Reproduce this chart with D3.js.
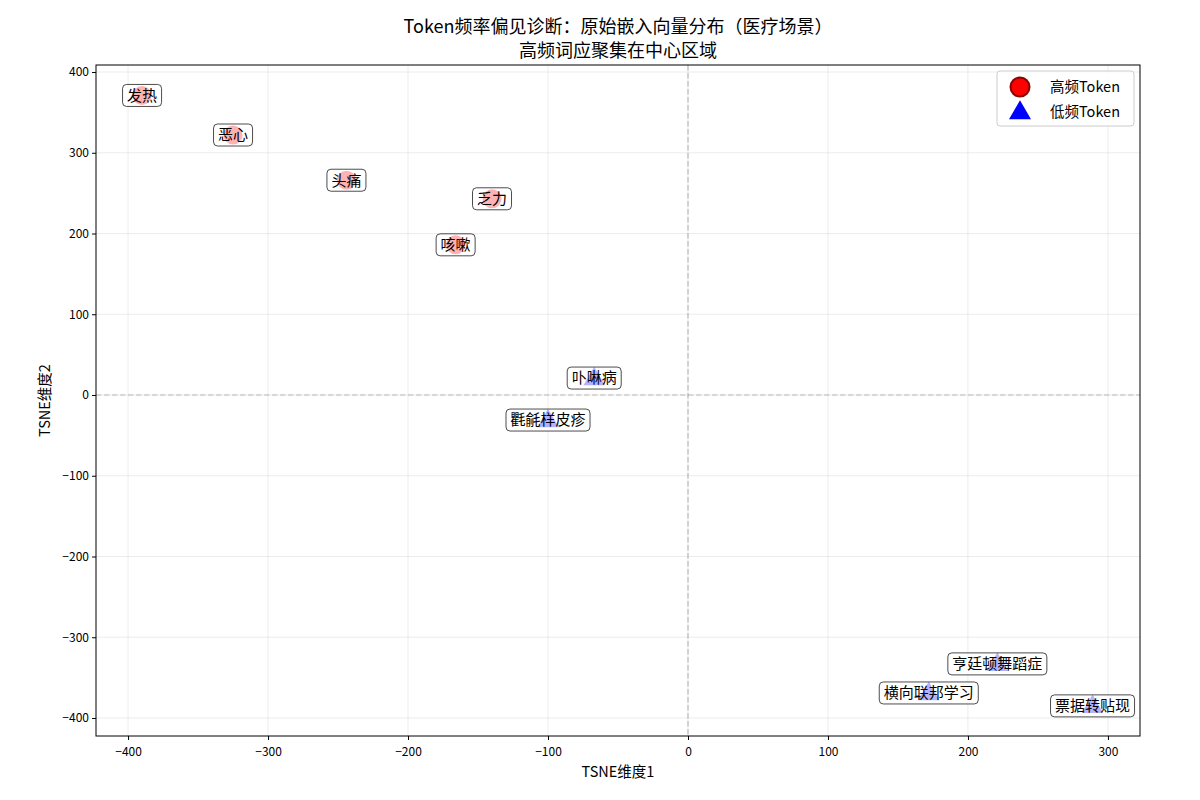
<!DOCTYPE html>
<html><head><meta charset="utf-8">
<script src="https://cdn.jsdelivr.net/npm/d3@7"></script>
<style>body{margin:0;background:#fff}svg{display:block}text{font-family:"Noto Sans CJK SC","DejaVu Sans",sans-serif}</style>
</head><body><svg id="c" width="1200" height="800"></svg>
<script>
const highTokens = ["发热","恶心","头痛","乏力","咳嗽"];
const highX = [-390,-325,-244,-140,-166];
const highY = [371,322,266,243,186];
const lowTokens = ["卟啉病","氍毹样皮疹","亨廷顿舞蹈症","横向联邦学习","票据转贴现"];
const lowX = [-67,-100,221,172,289];
const lowY = [21,-31,-333,-369,-385];
const xTicks = [-400,-300,-200,-100,0,100,200,300];
const yTicks = [-400,-300,-200,-100,0,100,200,300,400];
const titleLines = ["Token频率偏见诊断：原始嵌入向量分布（医疗场景）","高频词应聚集在中心区域"];
const legendLabels = ["高频Token","低频Token"];

const svg = d3.select("#c");
const L=96,R=1140,T=65,B=736;
const x = d3.scaleLinear().domain([-422.9,322.9]).range([L,R]);
const y = d3.scaleLinear().domain([-422.3,408.7]).range([B,T]);

// grid
svg.append("g").selectAll("line").data(xTicks).join("line")
 .attr("x1",d=>x(d)).attr("x2",d=>x(d)).attr("y1",T).attr("y2",B)
 .attr("stroke","#b0b0b0").attr("stroke-opacity",0.3).attr("stroke-width",0.8);
svg.append("g").selectAll("line").data(yTicks).join("line")
 .attr("y1",d=>y(d)).attr("y2",d=>y(d)).attr("x1",L).attr("x2",R)
 .attr("stroke","#b0b0b0").attr("stroke-opacity",0.3).attr("stroke-width",0.8);
// zero lines
svg.append("line").attr("x1",x(0)).attr("x2",x(0)).attr("y1",T).attr("y2",B)
 .attr("stroke","#808080").attr("stroke-opacity",0.5).attr("stroke-dasharray","5.5,2.5").attr("stroke-width",1.2);
svg.append("line").attr("y1",y(0)).attr("y2",y(0)).attr("x1",L).attr("x2",R)
 .attr("stroke","#808080").attr("stroke-opacity",0.5).attr("stroke-dasharray","5.5,2.5").attr("stroke-width",1.2);

// axes
const fmt = d => d3.format("d")(d).replace("-","−");
const xa = svg.append("g").attr("transform",`translate(0,${B})`).call(d3.axisBottom(x).tickValues(xTicks).tickFormat(fmt).tickSizeOuter(0).tickSize(4));
const ya = svg.append("g").attr("transform",`translate(${L},0)`).call(d3.axisLeft(y).tickValues(yTicks).tickFormat(fmt).tickSizeOuter(0).tickSize(4));
[xa,ya].forEach(a=>{a.select(".domain").remove();a.selectAll("text").attr("font-size",12).attr("fill","#000").style("font-family","'Noto Sans CJK SC','DejaVu Sans',sans-serif");a.selectAll("line").attr("stroke","#000");});
xa.selectAll("text").attr("dy","1.1em");
svg.append("rect").attr("x",L).attr("y",T).attr("width",R-L).attr("height",B-T).attr("fill","none").attr("stroke","#000").attr("stroke-width",1);

const high = highTokens.map((t,i)=>({t,x:highX[i],y:highY[i],k:"h"}));
const low = lowTokens.map((t,i)=>({t,x:lowX[i],y:lowY[i],k:"l"}));
const tri = d3.symbol().type(d3.symbolTriangle).size(200);

// labels with markers between box fill and text
const lab = svg.append("g");
[...high,...low].forEach(d=>{
  const g = lab.append("g").attr("transform",`translate(${x(d.x)},${y(d.y)})`);
  const t = g.append("text").text(d.t).attr("text-anchor","middle").attr("dy","0.36em").attr("font-size",15).attr("fill","#000");
  const bb = t.node().getBBox();
  const bx = bb.x-4.5, bw = bb.width+9;
  g.insert("rect","text").attr("x",bx).attr("y",-11).attr("width",bw).attr("height",22)
   .attr("rx",4).attr("fill","white").attr("fill-opacity",0.7);
  if(d.k==="h"){
    g.insert("circle","text").attr("r",9.5).attr("fill","red").attr("fill-opacity",0.3);
  } else {
    g.insert("path","text").attr("d",tri).attr("transform","translate(0,1)").attr("fill","blue").attr("fill-opacity",0.3);
  }
  g.insert("rect","text").attr("x",bx).attr("y",-11).attr("width",bw).attr("height",22)
   .attr("rx",4).attr("fill","none").attr("stroke","#000").attr("stroke-opacity",0.7).attr("stroke-width",1);
});

// titles
svg.append("text").attr("x",(L+R)/2).attr("y",33).attr("text-anchor","middle").attr("font-size",18).text(titleLines[0]);
svg.append("text").attr("x",(L+R)/2).attr("y",57).attr("text-anchor","middle").attr("font-size",18).text(titleLines[1]);
svg.append("text").attr("x",(L+R)/2).attr("y",777).attr("text-anchor","middle").attr("font-size",14.5).text("TSNE维度1");
svg.append("text").attr("transform",`translate(50,${(T+B)/2}) rotate(-90)`).attr("text-anchor","middle").attr("font-size",14.5).text("TSNE维度2");

// legend
const lg = svg.append("g");
lg.append("rect").attr("x",997).attr("y",71).attr("width",137).attr("height",55).attr("rx",3)
 .attr("fill","white").attr("fill-opacity",0.8).attr("stroke","#ccc");
lg.append("circle").attr("cx",1020).attr("cy",87).attr("r",9.5).attr("fill","red").attr("stroke","darkred").attr("stroke-width",2);
lg.append("path").attr("d",d3.symbol().type(d3.symbolTriangle).size(210)).attr("transform","translate(1020,113)").attr("fill","blue");
lg.append("text").attr("x",1050).attr("y",92).attr("font-size",14.5).text(legendLabels[0]);
lg.append("text").attr("x",1050).attr("y",117).attr("font-size",14.5).text(legendLabels[1]);
</script></body></html>
